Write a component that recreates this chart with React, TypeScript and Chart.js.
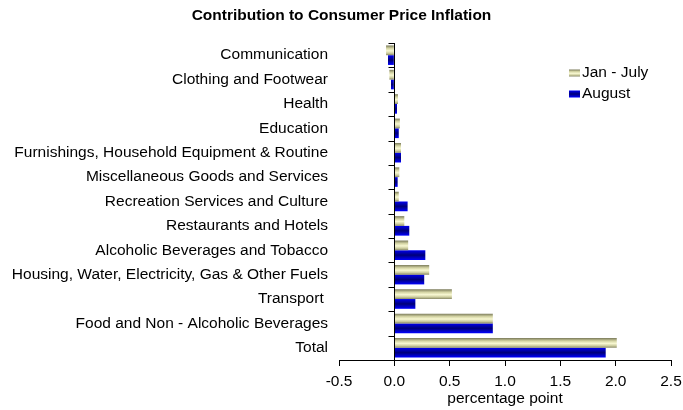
import React, { useEffect, useRef } from "react";
import { Chart, registerables } from "chart.js";

Chart.register(...registerables);

const categories = [
  "Communication",
  "Clothing and Footwear",
  "Health",
  "Education",
  "Furnishings, Household Equipment & Routine",
  "Miscellaneous Goods and Services",
  "Recreation Services and Culture",
  "Restaurants and Hotels",
  "Alcoholic Beverages and Tobacco",
  "Housing, Water, Electricity, Gas & Other Fuels",
  "Transport ",
  "Food and Non - Alcoholic Beverages",
  "Total",
];

const janJuly = [-0.075, -0.045, 0.033, 0.05, 0.06, 0.045, 0.04, 0.09, 0.125, 0.315, 0.52, 0.89, 2.01];
const august = [-0.057, -0.03, 0.024, 0.04, 0.06, 0.03, 0.12, 0.135, 0.28, 0.27, 0.19, 0.89, 1.91];

const seriesNames = ["Jan - July", "August"];
const xTicks = [-0.5, 0, 0.5, 1.0, 1.5, 2.0, 2.5];

const FONT = "Arial, 'Liberation Sans', sans-serif";
const FS = 15.5;

function makeGrad(ctx: CanvasRenderingContext2D, top: number, bottom: number, series: number) {
  const g = ctx.createLinearGradient(0, top, 0, bottom);
  if (series === 0) {
    g.addColorStop(0, "#7a7a5a");
    g.addColorStop(0.3, "#d4d4a4");
    g.addColorStop(0.55, "#f8f8d2");
    g.addColorStop(0.8, "#cccc9e");
    g.addColorStop(1, "#868664");
  } else {
    g.addColorStop(0, "#0000f0");
    g.addColorStop(0.5, "#000078");
    g.addColorStop(1, "#0000ff");
  }
  return g;
}

const gradientPlugin = {
  id: "gradBars",
  beforeDatasetsDraw(chart: any) {
    const ctx = chart.ctx;
    chart.data.datasets.forEach((_: any, di: number) => {
      const meta = chart.getDatasetMeta(di);
      meta.data.forEach((el: any) => {
        const top = el.y - el.height / 2;
        const bottom = el.y + el.height / 2;
        el.options = Object.assign({}, el.options, { backgroundColor: makeGrad(ctx, top, bottom, di) });
      });
    });
  },
  afterDatasetsDraw(chart: any) {
    const ctx = chart.ctx;
    const xs = chart.scales.x;
    const ys = chart.scales.y;
    const x0 = Math.round(xs.getPixelForValue(0)) + 0.5;
    const top = chart.chartArea.top;
    const bottom = chart.chartArea.bottom;
    ctx.save();
    ctx.strokeStyle = "#000";
    ctx.lineWidth = 1;
    ctx.beginPath();
    ctx.moveTo(x0, top);
    ctx.lineTo(x0, bottom);
    const n = categories.length;
    for (let i = 0; i <= n; i++) {
      const y = Math.round(ys.getPixelForValue(i - 0.5)) + 0.5;
      ctx.moveTo(x0 - 6, y);
      ctx.lineTo(x0, y);
    }
    ctx.stroke();
    ctx.restore();
  },
  afterDraw(chart: any) {
    const ctx = chart.ctx;
    ctx.save();
    ctx.font = `${FS}px ${FONT}`;
    ctx.textBaseline = "middle";
    const items = [
      { y: 73, i: 0 },
      { y: 94, i: 1 },
    ];
    items.forEach((it) => {
      const t = it.y - 3.5;
      ctx.fillStyle = makeGrad(ctx, t, t + 7, it.i);
      ctx.fillRect(569, t, 11, 7);
      ctx.fillStyle = "#000";
      ctx.fillText(seriesNames[it.i], 582, it.y);
    });
    ctx.restore();
  },
};

export default function App() {
  const ref = useRef<HTMLCanvasElement>(null);
  useEffect(() => {
    if (!ref.current) return;
    const chart = new Chart(ref.current, {
      type: "bar",
      data: {
        labels: categories,
        datasets: [
          { label: seriesNames[0], data: janJuly, backgroundColor: "#e8e8b8", borderWidth: 0 },
          { label: seriesNames[1], data: august, backgroundColor: "#0000c0", borderWidth: 0 },
        ],
      },
      options: {
        indexAxis: "y",
        animation: false,
        responsive: false,
        maintainAspectRatio: false,
        layout: { padding: 0 },
        datasets: { bar: { categoryPercentage: 0.8, barPercentage: 1.0 } },
        plugins: {
          legend: { display: false },
          tooltip: { enabled: false },
          title: {
            display: true,
            text: "Contribution to Consumer Price Inflation",
            color: "#000",
            font: { family: FONT, size: FS, weight: "bold" },
            padding: { top: 6, bottom: 18.4 },
          },
        },
        scales: {
          x: {
            type: "linear",
            min: -0.5,
            max: 2.5,
            afterBuildTicks: (s: any) => {
              s.ticks = xTicks.map((v) => ({ value: v }));
            },
            afterFit: (s: any) => {
              s.height = 50;
              s.paddingLeft = 0;
              s.paddingRight = 12;
            },
            ticks: {
              color: "#000",
              font: { family: FONT, size: FS },
              callback: (v: any) => Number(v).toFixed(1),
              padding: 6,
              maxRotation: 0,
            },
            grid: {
              color: "transparent",
              drawTicks: true,
              tickLength: 6,
              tickColor: "#000",
            },
            border: { display: true, color: "#000" },
            title: {
              display: true,
              text: "percentage point",
              color: "#000",
              font: { family: FONT, size: FS },
              padding: { top: 0, bottom: 2 },
            },
          },
          y: {
            type: "category",
            afterFit: (s: any) => {
              s.width = 339;
            },
            ticks: {
              color: "#000",
              font: { family: FONT, size: FS },
              padding: 11,
              autoSkip: false,
            },
            grid: { display: false, drawTicks: false },
            border: { display: false },
          },
        },
      },
      plugins: [gradientPlugin],
    } as any);
    return () => chart.destroy();
  }, []);
  return (
    <div style={{ position: "fixed", left: 0, top: 0, width: 683, height: 410 }}>
      <canvas ref={ref} width={683} height={410} style={{ width: 683, height: 410 }} />
    </div>
  );
}
